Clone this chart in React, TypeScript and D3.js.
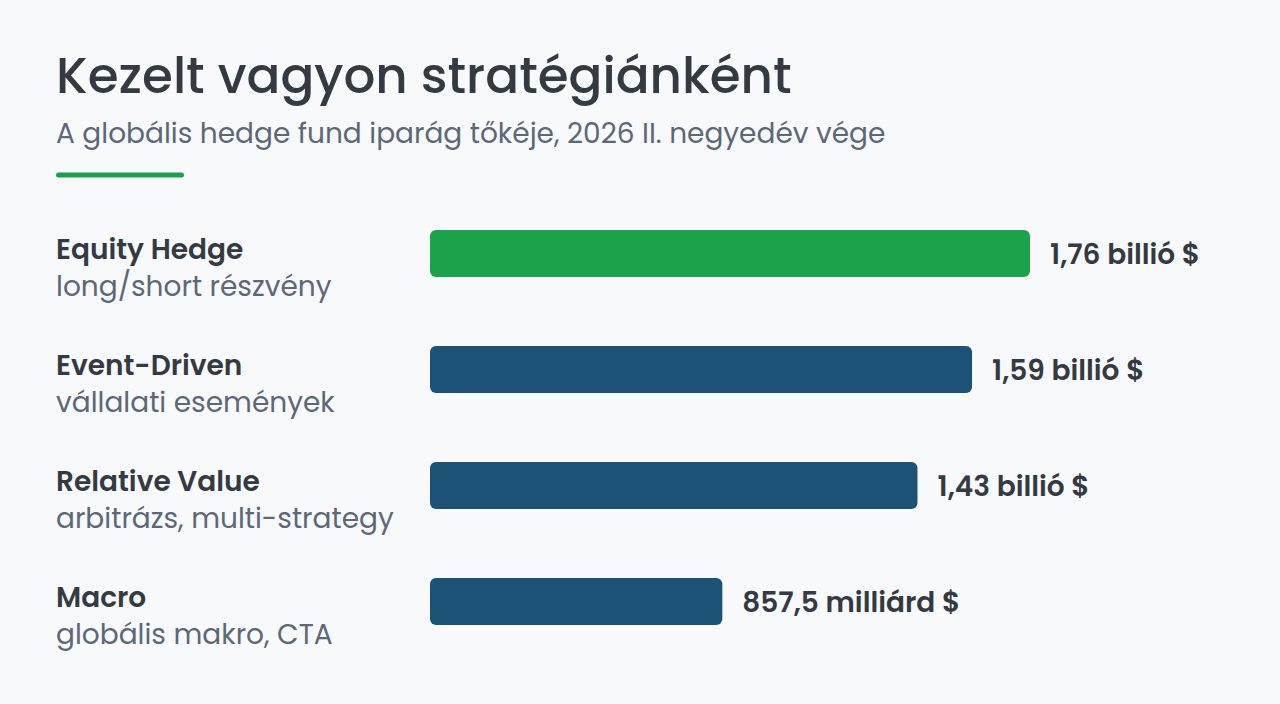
import React from "react";
import * as d3 from "d3";

const categories = ["Equity Hedge", "Event-Driven", "Relative Value", "Macro"];
const descriptions = [
  "long/short részvény",
  "vállalati események",
  "arbitrázs, multi-strategy",
  "globális makro, CTA",
];
// assets under management, trillion USD
const values = [1.76, 1.59, 1.43, 0.8575];
const highlighted = "Equity Hedge";

const title = "Kezelt vagyon stratégiánként";
const subtitle = "A globális hedge fund iparág tőkéje, 2026 II. negyedév vége";

const W = 1280;
const H = 704;
const FONT = "Poppins, Inter, 'Noto Sans', sans-serif";

const fmtValue = (v: number) =>
  v >= 1
    ? `${d3.format(".2f")(v).replace(".", ",")} billió $`
    : `${d3.format(".1f")(v * 1000).replace(".", ",")} milliárd $`;

export default function App() {
  const x = d3.scaleLinear().domain([0, d3.max(values) as number]).range([430, 1030]);
  const y = d3
    .scaleBand<string>()
    .domain(categories)
    .range([230, 625])
    .paddingInner(69 / 116)
    .paddingOuter(0);

  return (
    <svg
      width={W}
      height={H}
      viewBox={`0 0 ${W} ${H}`}
      style={{ position: "absolute", left: 0, top: 0, display: "block" }}
      fontFamily={FONT}
    >
      <rect width={W} height={H} fill="#f8f9fb" />
      <text x={56} y={93} fontSize={50} fontWeight={500} fill="#343a42">
        {title}
      </text>
      <text x={56} y={143} fontSize={28} fontWeight={400} fill="#5d6877">
        {subtitle}
      </text>
      <line x1={58.5} x2={181.5} y1={175} y2={175} stroke="#1aa34a" strokeWidth={5} strokeLinecap="round" />

      {categories.map((c, i) => {
        const top = y(c) as number;
        const bw = y.bandwidth();
        return (
          <g key={c}>
            <text x={56} y={top + 29} fontSize={28} fontWeight={600} fill="#343a42">
              {c}
            </text>
            <text x={56} y={top + 66} fontSize={28} fontWeight={400} fill="#5d6877">
              {descriptions[i]}
            </text>
            <rect
              x={x(0)}
              y={top}
              width={x(values[i]) - x(0)}
              height={bw}
              rx={6}
              fill={c === highlighted ? "#1aa34a" : "#1b5276"}
            />
            <text
              x={x(values[i]) + 20}
              y={top + bw / 2 + 10}
              fontSize={28}
              fontWeight={600}
              fill="#343a42"
            >
              {fmtValue(values[i])}
            </text>
          </g>
        );
      })}
    </svg>
  );
}
